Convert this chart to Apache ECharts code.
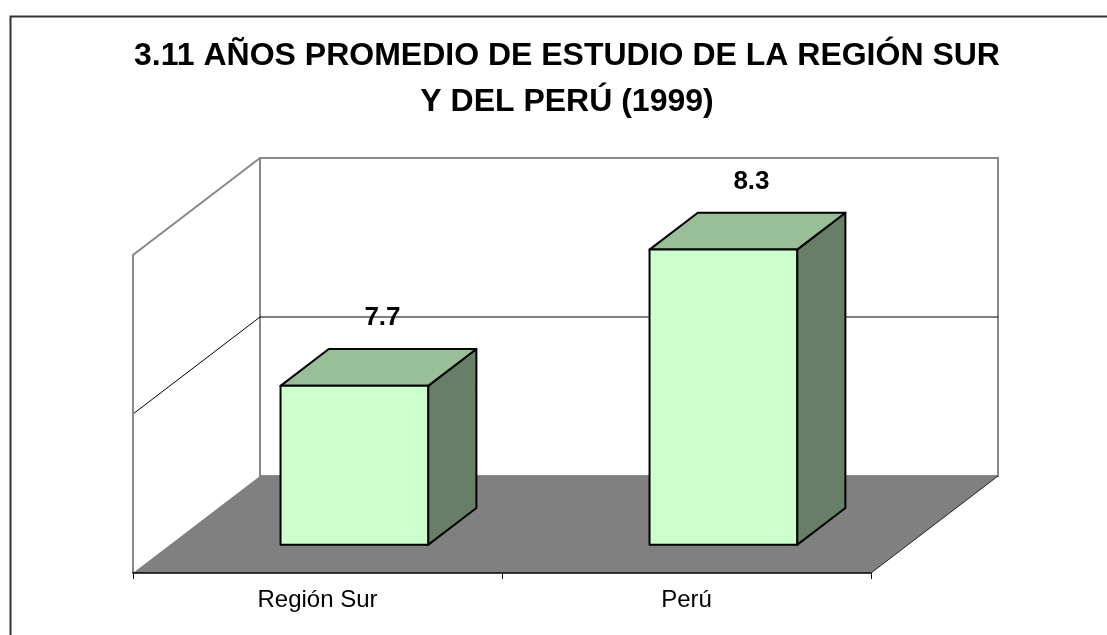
<!DOCTYPE html>
<html>
<head>
<meta charset="utf-8">
<script src="https://cdn.jsdelivr.net/npm/echarts@6/dist/echarts.min.js"></script>
<style>
  html, body { margin: 0; padding: 0; background: #fff; }
  #chart { width: 1107px; height: 635px; }
</style>
</head>
<body>
<div id="chart"></div>
<script>
// ---- data ----
const titleLines = ['3.11 AÑOS PROMEDIO DE ESTUDIO DE LA REGIÓN SUR', 'Y DEL PERÚ (1999)'];
const categories = ['Región Sur', 'Perú'];
const values = [7.7, 8.3];
const valueTicks = [7.0, 7.7, 8.4];

// ---- 3D look (styles only) ----
const DX = 127, DY = -97;          // depth offset of the back wall
const FZ0 = 0.29, FZ1 = 0.67;      // bar depth span (fraction of floor depth)
const BAR_W = 0.4;                 // bar width as fraction of category band
const FONT = '"Liberation Sans", Arial, sans-serif';

const chart = echarts.init(document.getElementById('chart'), null, { renderer: 'canvas' });

function wallsRender(params, api) {
  const cs = params.coordSys;
  const x0 = cs.x, x1 = cs.x + cs.width, yB = cs.y + cs.height, yT = cs.y;
  const children = [];
  children.push({ type: 'polygon', shape: { points: [[x0, yT], [x0 + DX, yT + DY], [x0 + DX, yB + DY], [x0, yB]] },
    style: { fill: '#fff', stroke: null } });
  children.push({ type: 'rect', shape: { x: x0 + DX, y: yT + DY, width: cs.width, height: cs.height },
    style: { fill: '#fff', stroke: '#888', lineWidth: 2 } });
  valueTicks.slice(1, -1).forEach(function (v) {
    const y = api.coord([0, v])[1];
    children.push({ type: 'line', shape: { x1: x0 + DX, y1: y + DY, x2: x1 + DX, y2: y + DY },
      style: { stroke: '#000', lineWidth: 1 } });
    children.push({ type: 'line', shape: { x1: x0, y1: y, x2: x0 + DX, y2: y + DY },
      style: { stroke: '#000', lineWidth: 1 } });
  });
  children.push({ type: 'polyline', shape: { points: [[x0, yB], [x0, yT], [x0 + DX, yT + DY]] },
    style: { fill: null, stroke: '#888', lineWidth: 2 } });
  children.push({ type: 'polygon', shape: { points: [[x0, yB], [x1, yB], [x1 + DX, yB + DY], [x0 + DX, yB + DY]] },
    style: { fill: '#808080', stroke: null } });
  children.push({ type: 'line', shape: { x1: x1, y1: yB, x2: x1 + DX, y2: yB + DY },
    style: { stroke: '#222', lineWidth: 1 } });
  return { type: 'group', children: children };
}

function barRender(params, api) {
  const cat = api.value(0), val = api.value(1);
  const base = api.coord([cat, valueTicks[0]]);
  const top = api.coord([cat, val]);
  const band = api.size([1, 0])[0];
  const w = band * BAR_W;
  const ox0 = FZ0 * DX, oy0 = FZ0 * DY;
  const bdx = (FZ1 - FZ0) * DX, bdy = (FZ1 - FZ0) * DY;
  const L = base[0] - w / 2 + ox0, R = base[0] + w / 2 + ox0;
  const B = base[1] + oy0, T = top[1] + oy0;
  const st = { stroke: '#000', lineWidth: 2, lineJoin: 'round' };
  return {
    type: 'group',
    children: [
      { type: 'polygon', shape: { points: [[R, B], [R, T], [R + bdx, T + bdy], [R + bdx, B + bdy]] },
        style: Object.assign({ fill: '#667F66' }, st) },
      { type: 'polygon', shape: { points: [[L, T], [R, T], [R + bdx, T + bdy], [L + bdx, T + bdy]] },
        style: Object.assign({ fill: '#99BF99' }, st) },
      { type: 'rect', shape: { x: L, y: T, width: R - L, height: B - T },
        style: Object.assign({ fill: '#CCFFCC' }, st) },
      { type: 'text', x: base[0] + ox0 + bdx / 2 + 4, y: T + bdy - 31,
        style: { text: String(val), fill: '#000', font: 'bold 26px ' + FONT, align: 'center', verticalAlign: 'middle' } }
    ]
  };
}

chart.setOption({
  animation: false,
  backgroundColor: '#fff',
  title: {
    text: titleLines.join('\n'),
    left: 562, top: 28, textAlign: 'center',
    textStyle: { fontFamily: FONT, fontSize: 32, fontWeight: 'bold', color: '#000', lineHeight: 46 }
  },
  graphic: [{
    type: 'rect', left: 8, top: 14, shape: { width: 1120, height: 640 },
    style: { fill: null, stroke: '#333', lineWidth: 2 }, z: 100, silent: true
  }],
  grid: { left: 133, right: 236, top: 255, bottom: 62 },
  xAxis: {
    type: 'category', data: categories, z: 10,
    axisLine: { show: true, lineStyle: { color: '#000', width: 1.5 } },
    axisTick: { show: true, length: 6, lineStyle: { color: '#000' } },
    axisLabel: { color: '#000', fontFamily: FONT, fontSize: 24, margin: 15 },
    splitLine: { show: false }
  },
  yAxis: {
    type: 'value', min: valueTicks[0], max: valueTicks[valueTicks.length - 1],
    interval: valueTicks[1] - valueTicks[0], show: false, splitLine: { show: false }
  },
  series: [
    { type: 'custom', renderItem: wallsRender, data: [[0, valueTicks[0]]], z: 1, silent: true },
    { type: 'custom', renderItem: barRender, data: values.map(function (v, i) { return [i, v]; }), z: 3, silent: true }
  ]
});
</script>
</body>
</html>
